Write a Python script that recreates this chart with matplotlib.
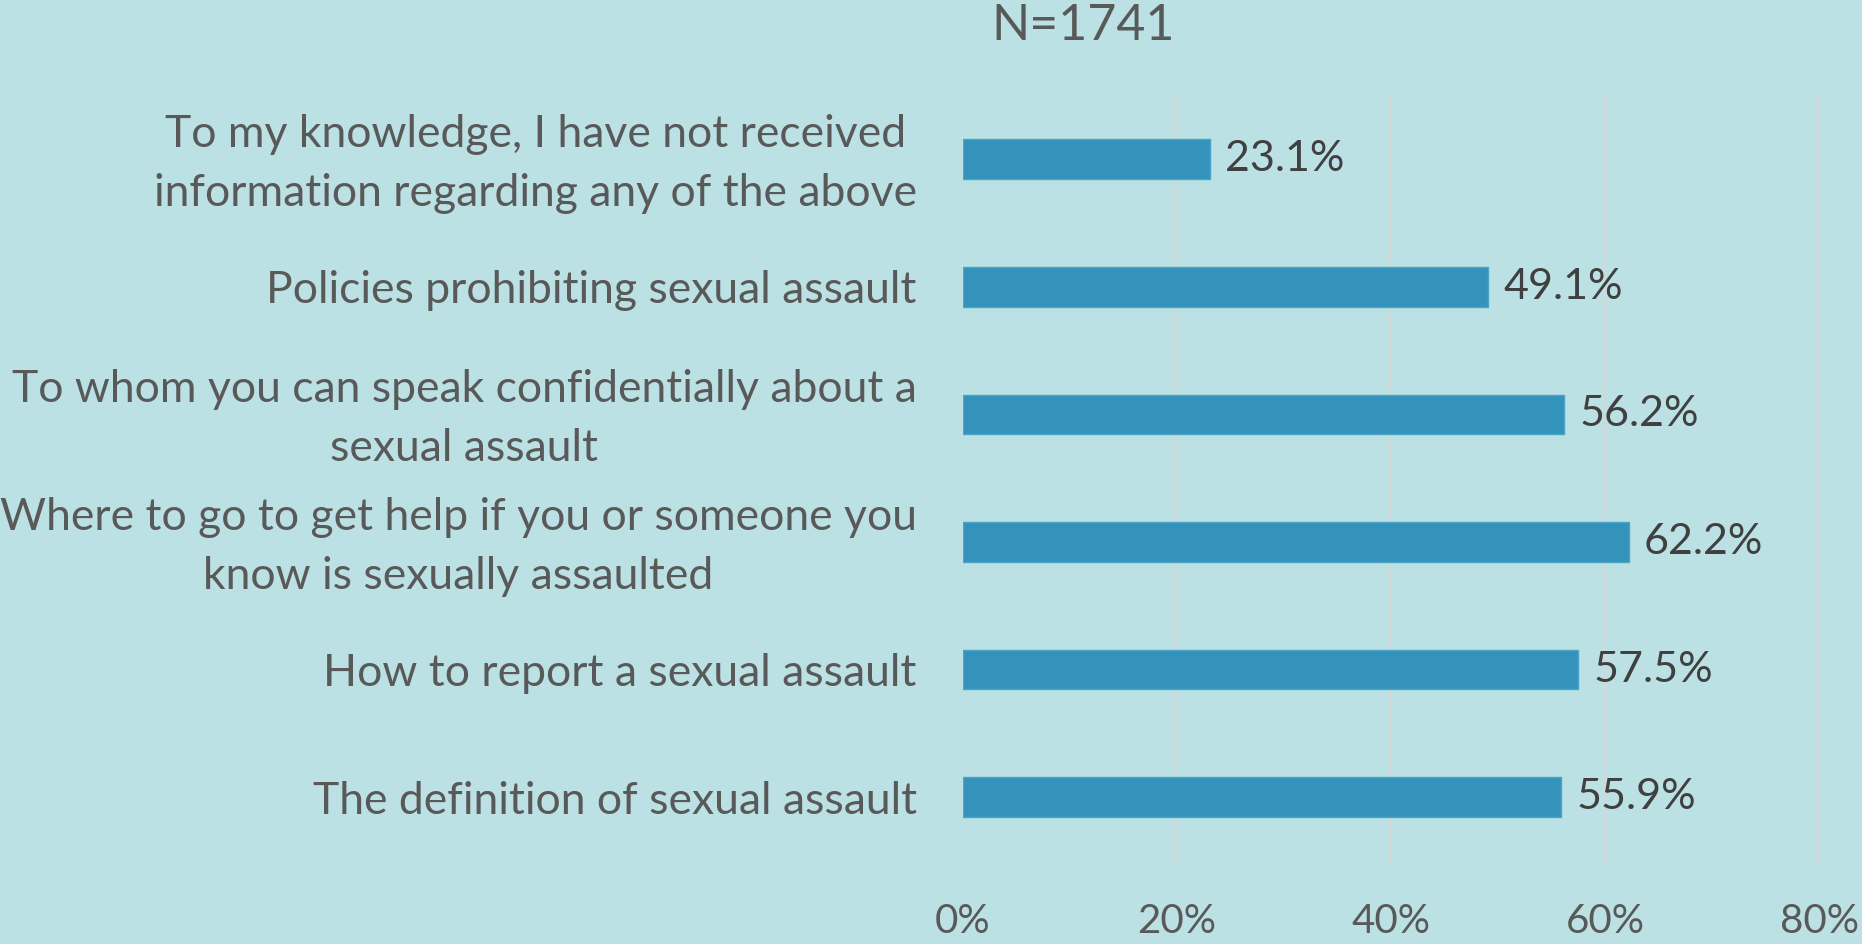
import matplotlib
matplotlib.use("Agg")
import matplotlib.pyplot as plt
import matplotlib.transforms as mtransforms
from matplotlib.ticker import FuncFormatter

categories = [
    "To my knowledge, I have not received\ninformation regarding any of the above",
    "Policies prohibiting sexual assault",
    "To whom you can speak confidentially about a\nsexual assault",
    "Where to go to get help if you or someone you\nknow is sexually assaulted",
    "How to report a sexual assault",
    "The definition of sexual assault",
]
values = [23.1, 49.1, 56.2, 62.2, 57.5, 55.9]
xticks = [0, 20, 40, 60, 80]
title = "N=1741"

BG = "#BBE1E4"
BAR = "#3393BA"
GRID = "#D6D6D6"
LABEL = "#595959"
VAL = "#404040"

plt.rcParams['font.family'] = ['Lato', 'DejaVu Sans']

fig = plt.figure(figsize=(18.62, 9.44), dpi=100, facecolor=BG)
ax = fig.add_axes([0.517, 0.088, 0.46, 0.811])
ax.set_facecolor(BG)

y = list(range(len(categories)))
ax.barh(y, values, height=0.31, color=BAR, edgecolor="#4BA3C6", linewidth=1, zorder=3)
ax.set_ylim(len(categories) - 0.5, -0.5)
ax.set_xlim(0, 80)
ax.set_xticks(xticks)
ax.xaxis.set_major_formatter(FuncFormatter(lambda v, p: f"{v:.0f}%"))
ax.grid(axis='x', color=GRID, linewidth=1.5, zorder=0)
ax.set_yticks(y)
ax.set_yticklabels(categories, fontsize=32, color=LABEL, multialignment='center', linespacing=1.55)
ax.tick_params(axis='y', length=0, pad=33)
ax.tick_params(axis='x', length=0, pad=30, labelsize=29, labelcolor=LABEL)
for s in ax.spines.values():
    s.set_visible(False)

shift = mtransforms.ScaledTranslation(0, 8 / 100, fig.dpi_scale_trans)
for lab in ax.get_yticklabels():
    if "\n" in lab.get_text():
        lab.set_transform(lab.get_transform() + shift)

for yi, v in zip(y, values):
    ax.annotate(f"{v:.1f}%", xy=(v, yi), xytext=(15, 0), textcoords='offset pixels',
                ha='left', va='center', fontsize=31, color=VAL)

fig.text(1083 / 1862, 1 - 26 / 944, title, ha='center', va='center', fontsize=36, color=LABEL)

fig.savefig("out.png", dpi=100, facecolor=BG)
